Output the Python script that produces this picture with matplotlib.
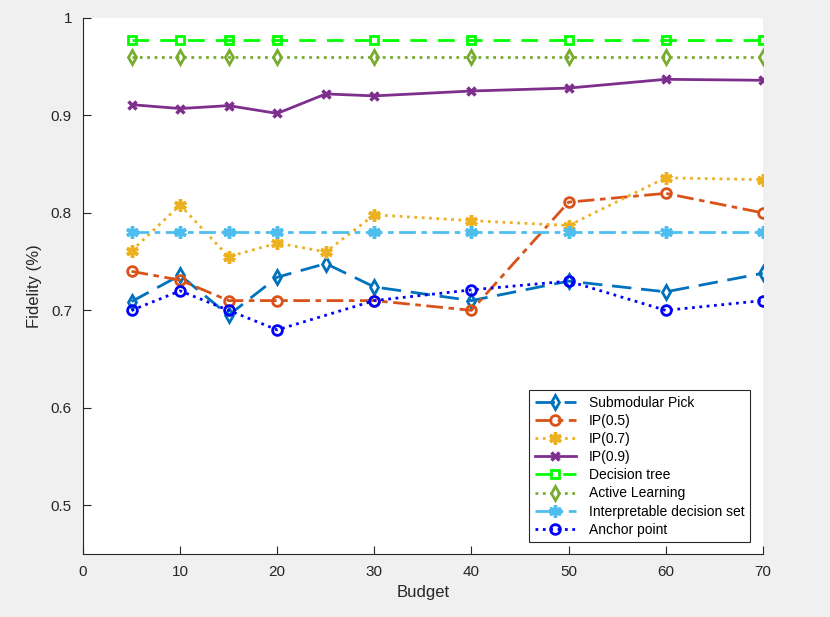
import numpy as np
import matplotlib.pyplot as plt

plt.rcParams['font.family'] = ['Liberation Sans', 'DejaVu Sans']

budget_all = [5, 10, 15, 20, 25, 30, 40, 50, 60, 70]
budget_skip = [5, 10, 15, 20, 30, 40, 50, 60, 70]

submodular = [0.709, 0.736, 0.695, 0.734, 0.748, 0.724, 0.710, 0.730, 0.719, 0.738]
ip05 = [0.740, 0.731, 0.710, 0.710, 0.710, 0.700, 0.811, 0.820, 0.800]
ip07 = [0.761, 0.808, 0.755, 0.769, 0.760, 0.798, 0.792, 0.787, 0.836, 0.834]
ip09 = [0.911, 0.907, 0.910, 0.902, 0.922, 0.920, 0.925, 0.928, 0.937, 0.936]
decision_tree = [0.977] * 9
active_learning = [0.960] * 9
ids = [0.780] * 9
anchor = [0.700, 0.720, 0.700, 0.680, 0.710, 0.721, 0.730, 0.700, 0.710]

fig = plt.figure(figsize=(8.3, 6.17), dpi=100, facecolor='#f0f0f0')
ax = fig.add_axes([0.1, 0.102, 0.819, 0.869])

lw = 2
ms = 7
asterisk = (6, 2, 0)
ax.plot(budget_all, submodular, linestyle=(0, (7, 3.5)), color='#0072BD', lw=lw,
        marker='d', ms=ms, mfc='none', mew=2, label='Submodular Pick')
ax.plot(budget_skip, ip05, linestyle=(0, (6, 2, 2, 2)), color='#D95319', lw=lw,
        marker='o', ms=ms, mfc='none', mew=2, label='IP(0.5)')
ax.plot(budget_all, ip07, linestyle=':', color='#EDB120', lw=lw,
        marker=asterisk, ms=9, mew=2.5, label='IP(0.7)')
ax.plot(budget_all, ip09, linestyle='-', color='#7E2F8E', lw=lw,
        marker='x', ms=6, mew=2.5, label='IP(0.9)')
ax.plot(budget_skip, decision_tree, linestyle=(0, (6, 4)), color='#00FF00', lw=lw,
        marker='s', ms=6, mfc='none', mew=2, label='Decision tree')
ax.plot(budget_skip, active_learning, linestyle=':', color='#77AC30', lw=lw,
        marker='d', ms=ms, mfc='none', mew=2, label='Active Learning')
ax.plot(budget_skip, ids, linestyle=(0, (6, 2, 2, 2)), color='#4DBEEE', lw=lw,
        marker=asterisk, ms=9, mew=2.5, label='Interpretable decision set')
ax.plot(budget_skip, anchor, linestyle=':', color='#0000FF', lw=lw,
        marker='o', ms=ms, mfc='none', mew=2, label='Anchor point')

ax.set_xlim(0, 70)
ax.set_ylim(0.45, 1.0)
ax.set_xticks(np.arange(0, 71, 10))
ax.set_yticks([0.5, 0.6, 0.7, 0.8, 0.9, 1.0])
ax.set_yticklabels(['0.5', '0.6', '0.7', '0.8', '0.9', '1'])
ax.spines['top'].set_visible(False)
ax.spines['right'].set_visible(False)
for s in ['left', 'bottom']:
    ax.spines[s].set_color('#262626')
    ax.spines[s].set_linewidth(0.8)
ax.tick_params(direction='in', length=6, labelsize=11, colors='#262626', pad=8)
ax.set_xlabel('Budget', fontsize=12, color='#262626', labelpad=4)
ax.set_ylabel('Fidelity (%)', fontsize=12, color='#262626', labelpad=6)

leg = ax.legend(loc='lower right', bbox_to_anchor=(0.981, 0.022), borderaxespad=0,
                fontsize=10, fancybox=False, framealpha=1, edgecolor='#262626',
                handlelength=3.0, labelspacing=0.3, borderpad=0.4, handletextpad=0.9)
leg.get_frame().set_linewidth(0.8)

fig.savefig('out.png', dpi=100, facecolor=fig.get_facecolor())
